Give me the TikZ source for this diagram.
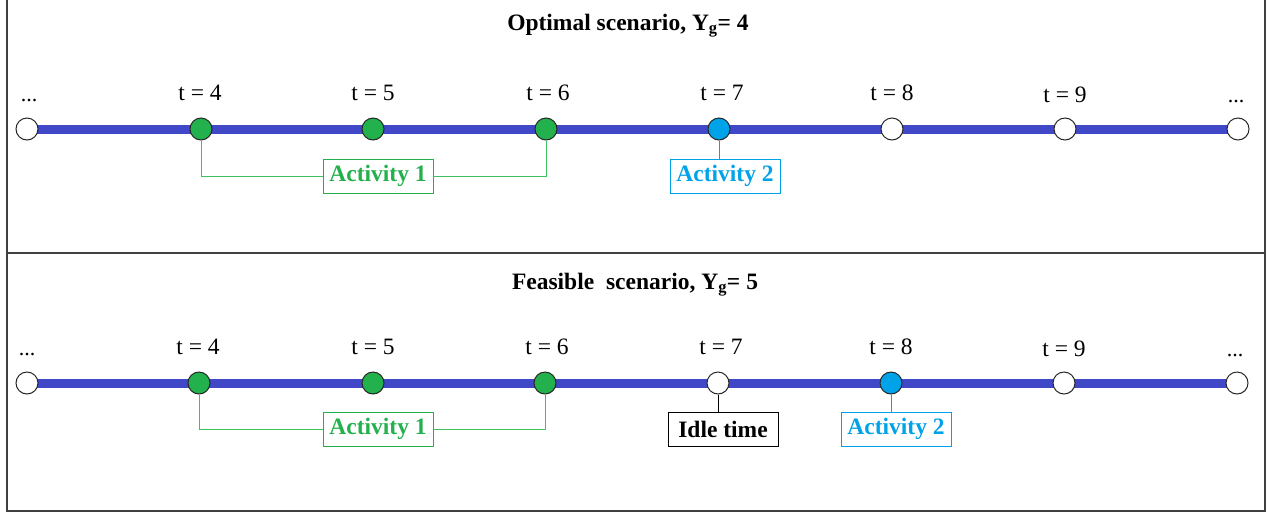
\documentclass[tikz,border=0pt]{standalone}
\usepackage{fontspec}
\setmainfont{Liberation Serif}
\begin{document}
\begin{tikzpicture}[x=1pt,y=-1pt,
  tick/.style={circle,draw=black!85,line width=1pt,minimum size=22pt,inner sep=0pt},
  idle/.style={tick,fill=white},
  busyA/.style={tick,fill=actgreen},
  busyB/.style={tick,fill=actblue},
  tlabel/.style={font=\fontsize{23.5}{26}\selectfont,anchor=base},
  dots/.style={font=\fontsize{22}{24}\selectfont,anchor=base},
  heading/.style={font=\bfseries\fontsize{23.5}{26}\selectfont,anchor=base},
  actbox/.style={draw=#1,text=#1,line width=0.9pt,font=\bfseries\fontsize{23.5}{26}\selectfont,minimum width=110pt,minimum height=34pt,inner sep=0pt},
  link/.style={draw=#1,line width=0.9pt},
  axis/.style={draw=axisblue,line width=9pt}
]
\definecolor{actgreen}{HTML}{22B14C}
\definecolor{linkgreen}{HTML}{3CC060}
\definecolor{actblue}{HTML}{00A2E8}
\definecolor{axisblue}{HTML}{4048C8}

% page and panel frame
\useasboundingbox (0,0) rectangle (1268,515);
\draw[black!75,line width=1.5pt] (7,0) -- (7,511) -- (1265,511) -- (1265,0);
\draw[black!75,line width=1.5pt] (7,253) -- (1265,253);

% ---------- upper panel: optimal scenario ----------
\node[heading] (h1) at (628,30) {Optimal scenario, Y\textsubscript{g}= 4};
\coordinate (a0) at (27,129);
\coordinate (a7) at (1238,129);
\draw[axis] (a0) -- (a7);
\node[idle]  (u0) at (27,129) {};
\node[busyA] (u1) at (201,129) {};
\node[busyA] (u2) at (373,129) {};
\node[busyA] (u3) at (546,129) {};
\node[busyB] (u4) at (719,129) {};
\node[idle]  (u5) at (892,129) {};
\node[idle]  (u6) at (1065,129) {};
\node[idle]  (u7) at (1238,129) {};
\node[dots]   (ud0) at (29,101) {...};
\node[tlabel] (ul1) at (200,100) {t = 4};
\node[tlabel] (ul2) at (373,100) {t = 5};
\node[tlabel] (ul3) at (548,100) {t = 6};
\node[tlabel] (ul4) at (722,100) {t = 7};
\node[tlabel] (ul5) at (892,100) {t = 8};
\node[tlabel] (ul6) at (1065,102) {t = 9};
\node[dots]   (ud7) at (1236,102) {...};

\node[actbox=actgreen,fill=white] (ua1) at (378,176) {Activity 1};
\node[actbox=actblue,fill=white] (ua2) at (725,176) {Activity 2};
\draw[link=linkgreen] (u1.south) |- (ua1.west);
\draw[link=linkgreen] (u3.south) |- (ua1.east);
\draw[link=actblue] (u4.south) -- (u4.south |- ua2.north);

% ---------- lower panel: feasible scenario ----------
\node[heading] (h2) at (635,289) {Feasible\ \ scenario, Y\textsubscript{g}= 5};
\coordinate (b0) at (27,383);
\coordinate (b7) at (1237,383);
\draw[axis] (b0) -- (b7);
\node[idle]  (l0) at (27,383) {};
\node[busyA] (l1) at (199,383) {};
\node[busyA] (l2) at (373,383) {};
\node[busyA] (l3) at (545,383) {};
\node[idle]  (l4) at (718,383) {};
\node[busyB] (l5) at (891,383) {};
\node[idle]  (l6) at (1064,383) {};
\node[idle]  (l7) at (1237,383) {};
\node[dots]   (ld0) at (27,355) {...};
\node[tlabel] (ll1) at (198,354) {t = 4};
\node[tlabel] (ll2) at (373,354) {t = 5};
\node[tlabel] (ll3) at (547,354) {t = 6};
\node[tlabel] (ll4) at (721,354) {t = 7};
\node[tlabel] (ll5) at (891,354) {t = 8};
\node[tlabel] (ll6) at (1064,356) {t = 9};
\node[dots]   (ld7) at (1235,356) {...};

\node[actbox=actgreen,fill=white] (la1) at (378,429) {Activity 1};
\node[actbox=black,fill=white] (lidle) at (723,429) {Idle time};
\node[actbox=actblue,fill=white] (la2) at (896,429) {Activity 2};
\draw[link=linkgreen] (l1.south) |- (la1.west);
\draw[link=linkgreen] (l3.south) |- (la1.east);
\draw[link=black] (l4.south) -- (l4.south |- lidle.north);
\draw[link=actblue] (l5.south) -- (l5.south |- la2.north);
\end{tikzpicture}
\end{document}
